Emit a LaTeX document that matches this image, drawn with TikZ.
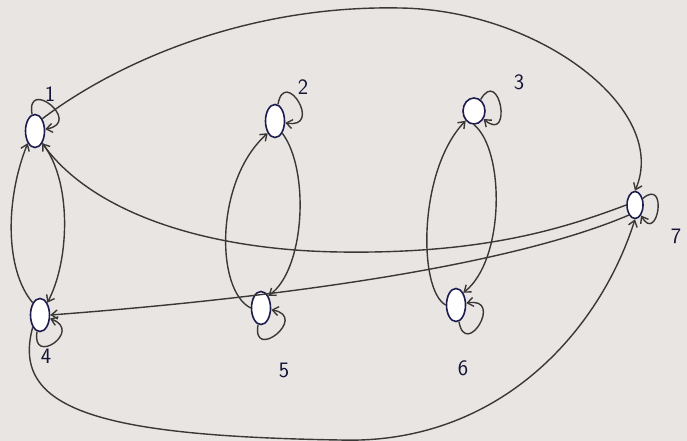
\documentclass[tikz,border=0pt]{standalone}
\usetikzlibrary{shapes.geometric,arrows.meta}
\definecolor{paper}{RGB}{232,229,226}
\definecolor{pencil}{RGB}{58,56,54}
\definecolor{ink}{RGB}{28,28,78}
\begin{document}
\begin{tikzpicture}[x=1pt,y=-1pt,
  vtx/.style={ellipse,draw=ink,line width=1.6pt,fill=white,minimum width=19pt,minimum height=33pt,inner sep=0pt},
  edge/.style={draw=pencil,line width=1.4pt,-{Straight Barb[length=6pt,width=9pt]}},
  lp/.style={edge,min distance=15pt,looseness=5},
  lbl/.style={font=\sffamily\fontsize{22}{22}\selectfont,text=ink!70!black}]
\fill[paper] (0,0) rectangle (687,441);
\useasboundingbox (0,0) rectangle (687,441);
% nodes
\node[vtx] (n1) at (35,131) {};
\node[vtx] (n2) at (275,121) {};
\node[vtx,minimum width=22pt,minimum height=26pt] (n3) at (474,111) {};
\node[vtx,minimum width=16pt,minimum height=27pt] (n7) at (635,205) {};
\node[vtx] (n4) at (40,315) {};
\node[vtx] (n5) at (261,308) {};
\node[vtx] (n6) at (456,305) {};
% labels
\node[lbl] (l1) at (50,94) {1};
\node[lbl] (l2) at (303,87) {2};
\node[lbl] (l3) at (519,82) {3};
\node[lbl] (l7) at (676,236) {7};
\node[lbl] (l4) at (46,356) {4};
\node[lbl] (l5) at (284,370) {5};
\node[lbl] (l6) at (463,368) {6};
% long edges
\draw[edge] (n1.north east) .. controls (120,60) and (250,5) .. (400,8) .. controls (540,10) and (670,110) .. (n7.north);
\draw[edge] (n7.west) .. controls (560,230) and (480,254) .. (340,252) .. controls (200,250) and (90,210) .. (n1.south east);
\draw[edge] (n7.south west) .. controls (500,270) and (250,300) .. (n4.east);
\draw[edge] (n4.south west) .. controls (10,410) and (100,436) .. (340,440) .. controls (500,445) and (600,330) .. (n7.south);
% pairs
\draw[edge] (n4.north west) .. controls (5,270) and (5,200) .. (n1.south west);
\draw[edge] (n1.south east) .. controls (72,180) and (70,260) .. (n4.north east);
\draw[edge] (n5.west) .. controls (215,290) and (215,180) .. (n2.south west);
\draw[edge] (n2.south east) .. controls (310,170) and (305,270) .. (n5.north east);
\draw[edge] (n6.west) .. controls (418,290) and (418,170) .. (n3.south west);
\draw[edge] (n3.south) .. controls (505,150) and (505,260) .. (n6.north east);
% self loops
\draw[lp] (n1) to[out=100,in=10] (n1);
\draw[lp] (n2) to[out=80,in=-10] (n2);
\draw[lp] (n3) to[out=60,in=-40] (n3);
\draw[lp] (n4) to[out=-100,in=-20] (n4);
\draw[lp] (n5) to[out=-100,in=-10] (n5);
\draw[lp] (n6) to[out=-80,in=10] (n6);
\draw[lp] (n7) to[out=40,in=-60] (n7);
\end{tikzpicture}
\end{document}
